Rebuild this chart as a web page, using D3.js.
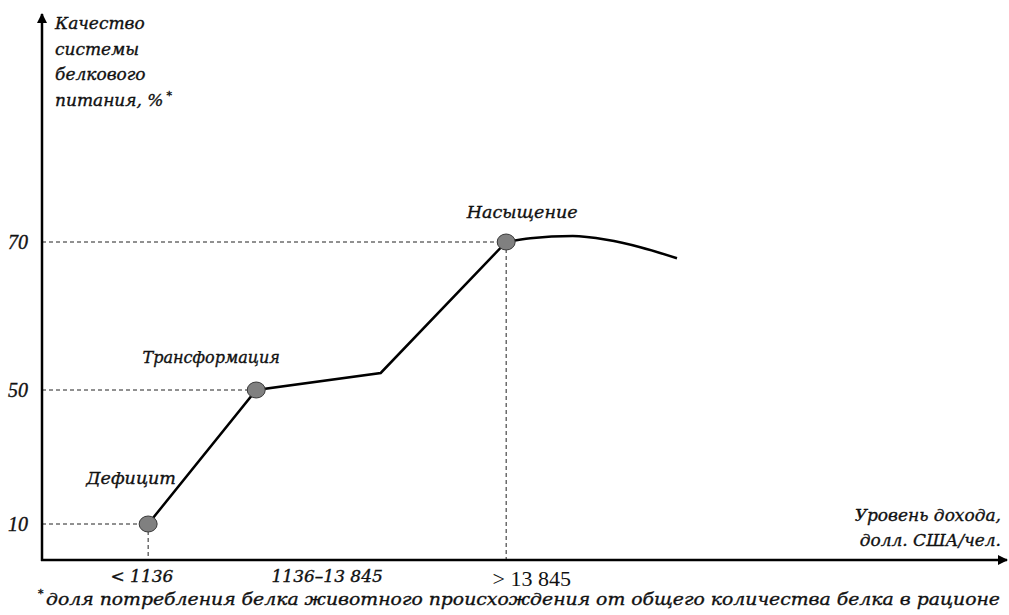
<html>
<head>
<meta charset="utf-8">
<script src="https://d3js.org/d3.v7.min.js"></script>
<style>
  body { margin: 0; background: #fff; }
  text { font-family: "DejaVu Serif", serif; font-style: italic; fill: #111; stroke: #111; stroke-width: 0.35px; }
</style>
</head>
<body>
<script>
// stages of the protein-nutrition transition
var stages = ["Дефицит", "Трансформация", "Насыщение"];
var stageX = [11, 22.2, 48.1];
var stageY = [10, 50, 70];

// main broken line (x in abstract income units, y in %)
var lineX = [11, 22.2, 35.1, 48.1];
var lineY = [10, 50, 52.3, 70];

// saturation curve after the last stage
var curveX = [48.1, 50.6, 55, 58.5, 62, 65.8];
var curveY = [70, 70.5, 70.8, 70.3, 69.3, 67.8];

var yTicks = [10, 50, 70];
var xTickAt = [10.3, 29.5, 50.7];
var xLabels = ["< 1136", "1136–13 845", "> 13 845"];

var yTitle = ["Качество", "системы", "белкового", "питания, %"];
var xTitle = ["Уровень дохода,", "долл. США/чел."];
var footnote = "доля потребления белка животного происхождения от общего количества белка в рационе";

var width = 1009, height = 615;
var x0 = 42, y0 = 560;

var svg = d3.select("body").append("svg")
    .attr("width", width)
    .attr("height", height);

var defs = svg.append("defs");
defs.append("marker")
    .attr("id", "arr")
    .attr("viewBox", "0 0 10 10")
    .attr("refX", 9).attr("refY", 5)
    .attr("markerWidth", 4).attr("markerHeight", 4)
    .attr("markerUnits", "strokeWidth")
    .attr("orient", "auto")
    .append("path").attr("d", "M0,0 L10,5 L0,10 z").attr("fill", "#000");

// schematic, non-uniform y axis -> piecewise scale
var x = d3.scaleLinear().domain([0, 100]).range([x0, 1007]);
var y = d3.scaleLinear().domain([0, 10, 50, 70]).range([y0, 524, 390, 242]);

// dashed guides
var guides = svg.append("g")
    .attr("stroke", "#222")
    .attr("stroke-width", 1)
    .attr("stroke-dasharray", "4,3");
stages.forEach(function(s, i) {
    guides.append("line")
        .attr("x1", x0).attr("x2", x(stageX[i]))
        .attr("y1", y(stageY[i])).attr("y2", y(stageY[i]));
    if (i != 1) {
        guides.append("line")
            .attr("x1", x(stageX[i])).attr("x2", x(stageX[i]))
            .attr("y1", y(stageY[i])).attr("y2", y0);
    }
});

// axes with arrows
svg.append("line")
    .attr("x1", x0).attr("y1", y0 + 1)
    .attr("x2", x0).attr("y2", 14)
    .attr("stroke", "#000").attr("stroke-width", 2.5)
    .attr("marker-end", "url(#arr)");
svg.append("line")
    .attr("x1", x0 - 1).attr("y1", y0)
    .attr("x2", 1007).attr("y2", y0)
    .attr("stroke", "#000").attr("stroke-width", 2.5)
    .attr("marker-end", "url(#arr)");

var yAxis = svg.append("g")
    .attr("transform", "translate(" + x0 + ",0)")
    .call(d3.axisLeft(y).tickValues(yTicks).tickSize(0).tickPadding(14));
yAxis.select(".domain").remove();
yAxis.selectAll("text")
    .attr("font-size", 20)
    .style("font-family", "'Liberation Serif', serif");

var xAxis = svg.append("g")
    .attr("transform", "translate(0," + y0 + ")")
    .call(d3.axisBottom(x).tickValues(xTickAt).tickSize(0).tickPadding(10)
        .tickFormat(function(d, i) { return xLabels[i]; }));
xAxis.select(".domain").remove();
xAxis.selectAll("text")
    .style("font-style", function(d, i) { return i == 2 ? "normal" : "italic"; })
    .style("font-family", function(d, i) { return i == 2 ? "'Liberation Serif', serif" : "'DejaVu Serif', serif"; })
    .style("stroke-width", function(d, i) { return i == 2 ? "0px" : null; })
    .attr("font-size", function(d, i) { return i == 2 ? 22 : 17; });

// lines
var line = d3.line().x(function(d) { return x(d[0]); }).y(function(d) { return y(d[1]); });
svg.append("path")
    .datum(d3.zip(lineX, lineY))
    .attr("d", line)
    .attr("fill", "none").attr("stroke", "#000").attr("stroke-width", 2.5)
    .attr("stroke-linejoin", "miter");
svg.append("path")
    .datum(d3.zip(curveX, curveY))
    .attr("d", line.curve(d3.curveMonotoneX))
    .attr("fill", "none").attr("stroke", "#000").attr("stroke-width", 2.5);

// stage markers
svg.selectAll("ellipse.pt")
    .data(stages).enter()
    .append("ellipse")
    .attr("class", "pt")
    .attr("cx", function(d, i) { return x(stageX[i]); })
    .attr("cy", function(d, i) { return y(stageY[i]); })
    .attr("rx", 9).attr("ry", 8)
    .attr("fill", "#808080")
    .attr("stroke", "#3a3a3a").attr("stroke-width", 1);

var labOff = [[-17, -40], [-45, -27], [16, -24]];
svg.selectAll("text.stage")
    .data(stages).enter()
    .append("text")
    .attr("class", "stage")
    .attr("x", function(d, i) { return x(stageX[i]) + labOff[i][0]; })
    .attr("y", function(d, i) { return y(stageY[i]) + labOff[i][1]; })
    .attr("text-anchor", "middle")
    .attr("font-size", function(d, i) { return i == 1 ? 16 : 17.5; })
    .text(function(d) { return d; });

// axis titles
var yt = svg.append("text").attr("font-size", 17);
yTitle.forEach(function(t, i) {
    yt.append("tspan").attr("x", 55).attr("y", 29 + i * 25.5).text(t);
});
yt.append("tspan").attr("dx", 3).attr("dy", -7).attr("font-size", 11).text("*");

var xt = svg.append("text").attr("font-size", 17).attr("text-anchor", "end");
xTitle.forEach(function(t, i) {
    xt.append("tspan").attr("x", 1001).attr("y", 521 + i * 25).text(t);
});

// footnote
svg.append("text").attr("x", 38).attr("y", 597).attr("font-size", 11).text("*");
svg.append("text").attr("x", 46).attr("y", 605).attr("font-size", 17)
    .attr("textLength", 954).attr("lengthAdjust", "spacingAndGlyphs")
    .text(footnote);
</script>
</body>
</html>
